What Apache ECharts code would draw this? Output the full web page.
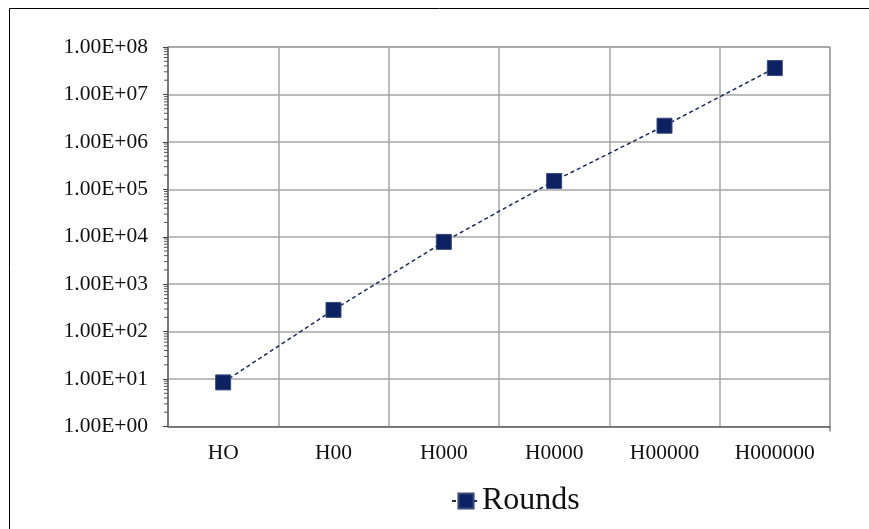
<!DOCTYPE html>
<html>
<head>
<meta charset="utf-8">
<script src="https://cdn.jsdelivr.net/npm/echarts@6/dist/echarts.min.js"></script>
<style>html,body{margin:0;padding:0;background:#fff}#c{width:869px;height:529px}</style>
</head>
<body>
<div id="c"></div>
<script>
const categories = ['HO', 'H00', 'H000', 'H0000', 'H00000', 'H000000'];
const rounds = [8.5, 287, 7800, 150000, 2190000, 36000000];
const yTickLabels = ['1.00E+00', '1.00E+01', '1.00E+02', '1.00E+03', '1.00E+04', '1.00E+05', '1.00E+06', '1.00E+07', '1.00E+08'];
const seriesName = 'Rounds';

// minor tick values (2..9 x 10^n) for the log axis
const minorVals = [];
for (let e = 0; e < 8; e++) for (let k = 2; k <= 9; k++) minorVals.push(k * Math.pow(10, e));

const chart = echarts.init(document.getElementById('c'));
const FONT = 'Liberation Serif';
chart.setOption({
  animation: false,
  backgroundColor: '#fff',
  textStyle: { fontFamily: FONT },
  grid: { left: 168, top: 47, right: 39, bottom: 102.5, show: true, borderColor: '#6a6a6a', borderWidth: 1, backgroundColor: 'transparent' },
  graphic: [
    { type: 'line', shape: { x1: 9.5, y1: 8.5, x2: 869, y2: 8.5 }, style: { stroke: '#000', lineWidth: 1 } },
    { type: 'line', shape: { x1: 9.5, y1: 8.5, x2: 9.5, y2: 529 }, style: { stroke: '#000', lineWidth: 1 } }
  ],
  legend: {
    left: 446, top: 480,
    itemWidth: 28, itemHeight: 19, itemGap: 10,
    textStyle: { fontFamily: FONT, fontSize: 32, color: '#111', padding: [0, 0, 0, -3] },
    data: [seriesName]
  },
  xAxis: {
    type: 'category',
    data: categories,
    boundaryGap: true,
    axisLine: { lineStyle: { color: '#6a6a6a', width: 1.5 } },
    axisTick: { alignWithLabel: true, length: 5, lineStyle: { color: '#444' } },
    axisLabel: { fontFamily: FONT, fontSize: 21.5, color: '#111', margin: 16 },
    splitLine: { show: true, lineStyle: { color: '#a6a6a6', width: 1.5 } }
  },
  yAxis: {
    type: 'log',
    logBase: 10,
    min: 1, max: 100000000,
    interval: 1,
    axisLine: { show: true, lineStyle: { color: '#6a6a6a', width: 1.5 } },
    axisTick: { show: true, length: 5, lineStyle: { color: '#444' } },
    axisLabel: {
      fontFamily: FONT, fontSize: 21.5, color: '#111', margin: 20,
      formatter: function (v) { return yTickLabels[Math.round(Math.log10(v))]; }
    },
    splitLine: { show: true, lineStyle: { color: '#a6a6a6', width: 1.5 } }
  },
  series: [
    {
      name: seriesName,
      type: 'line',
      data: rounds,
      symbol: 'rect',
      symbolSize: 15,
      itemStyle: { color: '#0c2263', borderColor: '#3a4a7e', borderWidth: 1 },
      lineStyle: { color: '#1f2b55', width: 1.5, type: [4, 3] },
      z: 5
    },
    {
      name: 'minorTicks',
      type: 'custom',
      silent: true,
      data: minorVals.map(v => [0, v]),
      renderItem: function (params, api) {
        const p = api.coord([0, api.value(1)]);
        const band = api.size([1, 0])[0];
        const x0 = p[0] - band / 2;
        return { type: 'line', shape: { x1: x0 - 4, y1: p[1], x2: x0, y2: p[1] }, style: { stroke: '#555', lineWidth: 1 } };
      },
      z: 1
    },
    {
      name: 'endTick',
      type: 'custom',
      silent: true,
      data: [[categories.length - 1, 1]],
      renderItem: function (params, api) {
        const p = api.coord([api.value(0), api.value(1)]);
        const band = api.size([1, 0])[0];
        const x1 = p[0] + band / 2;
        return { type: 'line', shape: { x1: x1, y1: p[1], x2: x1, y2: p[1] + 5 }, style: { stroke: '#444', lineWidth: 1 } };
      },
      z: 1
    }
  ]
});
</script>
</body>
</html>
